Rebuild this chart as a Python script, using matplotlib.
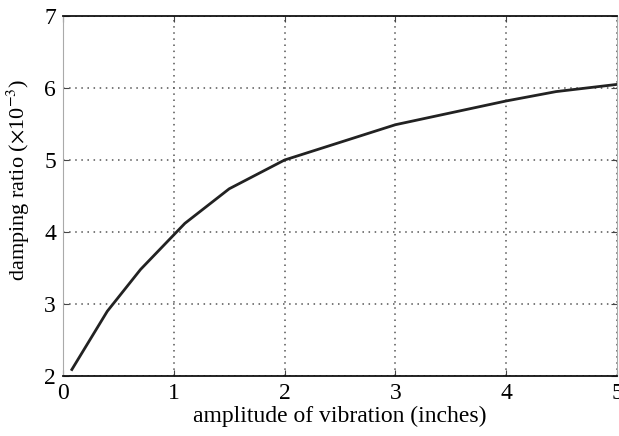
import matplotlib
matplotlib.use("Agg")
import matplotlib.pyplot as plt

amplitude = [0.08, 0.4, 0.7, 1.1, 1.5, 2.0, 3.0, 4.0, 4.45, 5.0]
damping = [2.09, 2.9, 3.48, 4.12, 4.6, 5.0, 5.49, 5.82, 5.95, 6.05]
xticks = [0, 1, 2, 3, 4, 5]
yticks = [2, 3, 4, 5, 6, 7]

plt.rcParams['font.family'] = ['Liberation Serif', 'DejaVu Serif']
plt.rcParams['mathtext.fontset'] = 'stix'

fig = plt.figure(figsize=(6.19, 4.36), dpi=100)
ax = fig.add_axes([63/619, 1-376/436, (617-63)/619, (376-16)/436])

ax.plot(amplitude, damping, color='#222222', lw=2.0)
ax.set_xlim(0, 5)
ax.set_ylim(2, 7)
ax.set_xticks(xticks)
ax.set_yticks(yticks)
ax.grid(True, linestyle=(0, (1, 3)), color='#555555', lw=1.1)
ax.tick_params(direction='in', length=4, labelsize=17, top=True, right=True,
               color='#444444')
ax.tick_params(axis='x', pad=5)
ax.tick_params(axis='y', pad=5)
for s in ['top', 'bottom']:
    ax.spines[s].set_color('#111111')
    ax.spines[s].set_linewidth(1.3)
for s in ['left', 'right']:
    ax.spines[s].set_color('#aaaaaa')
    ax.spines[s].set_linewidth(0.8)

ax.set_xlabel('amplitude of vibration (inches)', fontsize=17, labelpad=1)
ax.set_ylabel(r'damping ratio ($\times$10$^{-3}$)', fontsize=16)
ax.yaxis.set_label_coords(-0.056, 0.545)

fig.savefig('out.png', dpi=100)
